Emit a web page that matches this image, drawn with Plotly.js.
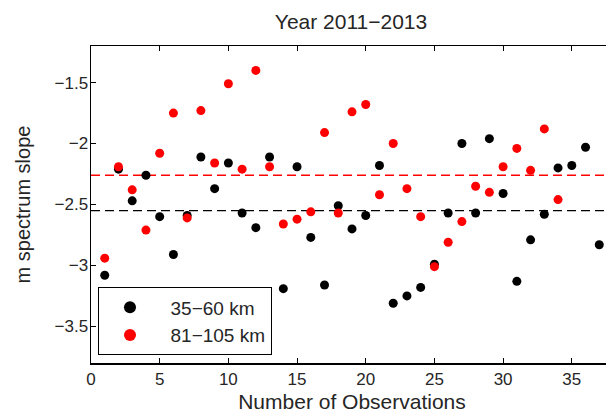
<!DOCTYPE html>
<html>
<head>
<meta charset="utf-8">
<script src="https://cdn.plot.ly/plotly-3.0.1.min.js"></script>
<style>
  html, body { margin: 0; padding: 0; background: #fff; overflow: hidden; }
  #chart { width: 620px; height: 417px; }
</style>
</head>
<body>
<div id="chart"></div>
<script>
// Observation index for each band
const obsLow = [1,2,3,4,5,6,7,8,9,10,11,12,13,14,15,16,17,18,19,20,21,22,23,24,25,26,27,28,29,30,31,32,33,34,35,36,37];
const obsHigh = [1,2,3,4,5,6,7,8,9,10,11,12,13,14,15,16,17,18,19,20,21,22,23,24,25,26,27,28,29,30,31,32,33,34];

// m spectrum slope, 35–60 km
const slopeLow = [-3.08,-2.21,-2.47,-2.26,-2.60,-2.91,-2.59,-2.11,-2.37,-2.16,-2.57,-2.69,-2.11,-3.19,-2.19,-2.77,-3.16,-2.51,-2.70,-2.59,-2.18,-3.31,-3.25,-3.18,-2.99,-2.57,-2.00,-2.57,-1.96,-2.41,-3.13,-2.79,-2.58,-2.20,-2.18,-2.03,-2.83];
// m spectrum slope, 81–105 km
const slopeHigh = [-2.94,-2.19,-2.38,-2.71,-2.08,-1.75,-2.61,-1.73,-2.16,-1.51,-2.21,-1.40,-2.19,-2.66,-2.62,-2.56,-1.91,-2.57,-1.74,-1.68,-2.42,-2.00,-2.37,-2.60,-3.01,-2.81,-2.64,-2.35,-2.40,-2.19,-2.04,-2.22,-1.88,-2.46];

// Mean slope reference levels
const meanLow = -2.55;
const meanHigh = -2.26;

// Legend labels (en-space lead-in widens the gap after the marker)
const seriesNames = ['\u200235\u221260 km', '\u200281\u2212105 km'];
const xTicks = [0,5,10,15,20,25,30,35];
const yTicks = [-3.5,-3,-2.5,-2,-1.5];
const yTickText = ['\u22123.5','\u22123','\u22122.5','\u22122','\u22121.5'];
const xRange = [0, 38];

const font = 'Liberation Sans, Arial, Helvetica, sans-serif';
const ink = '#262626';

const traces = [
  {
    x: obsLow, y: slopeLow, type: 'scatter', mode: 'markers', name: seriesNames[0],
    marker: { color: '#000000', size: 9 }
  },
  {
    x: obsHigh, y: slopeHigh, type: 'scatter', mode: 'markers', name: seriesNames[1],
    marker: { color: '#ff0000', size: 9 }
  }
];

const layout = {
  width: 620, height: 417,
  margin: { l: 91, r: 7, t: 46, b: 54 },
  paper_bgcolor: '#ffffff', plot_bgcolor: '#ffffff',
  font: { family: font, color: ink, size: 17 },
  showlegend: true,
  title: {
    text: 'Year 2011\u22122013',
    font: { family: font, size: 21, color: ink },
    x: 351 / 620, xanchor: 'center', y: 1 - 22 / 417, yanchor: 'middle'
  },
  xaxis: {
    range: xRange, tickvals: xTicks, ticktext: xTicks.map(String),
    ticks: 'inside', ticklen: 5, tickwidth: 1, tickcolor: '#000',
    showline: true, linecolor: '#000', linewidth: 1.5, mirror: 'ticks',
    showgrid: false, zeroline: false,
    tickfont: { family: font, size: 17, color: ink },
    title: { text: 'Number of Observations', font: { family: font, size: 21, color: ink }, standoff: 6 }
  },
  yaxis: {
    range: [-3.8, -1.2], tickvals: yTicks, ticktext: yTickText,
    ticks: 'inside', ticklen: 5, tickwidth: 1, tickcolor: '#000',
    showline: true, linecolor: '#000', linewidth: 1.5, mirror: 'ticks',
    showgrid: false, zeroline: false, ticklabelstandoff: -2,
    tickfont: { family: font, size: 17, color: ink },
    title: { text: 'm spectrum slope', font: { family: font, size: 20, color: ink }, standoff: 18 }
  },
  shapes: [
    { type: 'line', xref: 'x', yref: 'y', x0: xRange[0], x1: xRange[1], y0: meanHigh, y1: meanHigh,
      line: { color: '#ff0000', width: 1.3, dash: '9px,5px' }, layer: 'below' },
    { type: 'line', xref: 'x', yref: 'y', x0: xRange[0], x1: xRange[1], y0: meanLow, y1: meanLow,
      line: { color: '#000000', width: 1.3, dash: '9px,5px' }, layer: 'below' }
  ],
  legend: {
    x: 0.0134, y: 0.024, xanchor: 'left', yanchor: 'bottom',
    bgcolor: '#ffffff', bordercolor: '#000000', borderwidth: 1,
    font: { family: font, size: 19, color: ink },
    itemsizing: 'constant', itemwidth: 52, tracegroupgap: 0
  }
};

Plotly.newPlot('chart', traces, layout, { displayModeBar: false, staticPlot: true });
</script>
</body>
</html>
